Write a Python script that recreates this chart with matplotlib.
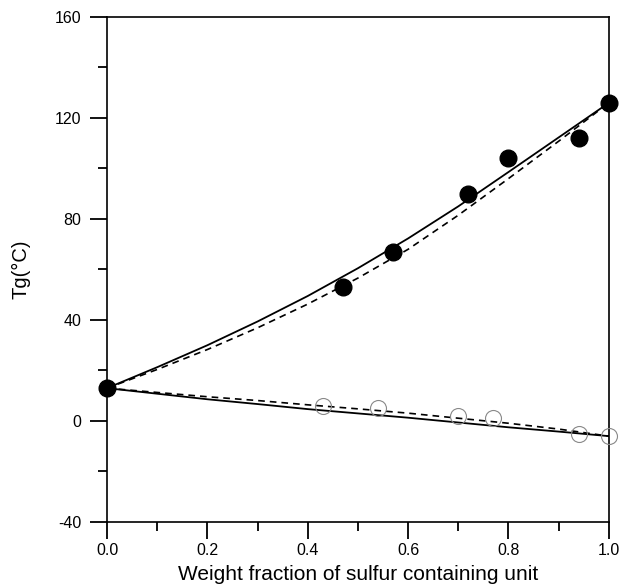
import matplotlib
matplotlib.use("Agg")
import matplotlib.pyplot as plt
from matplotlib.ticker import MultipleLocator, FormatStrFormatter

plt.rcParams['font.family'] = ['Liberation Sans', 'DejaVu Sans']

# Filled points (upper series)
x_filled = [0.0, 0.47, 0.57, 0.72, 0.80, 0.94, 1.0]
y_filled = [13, 53, 67, 90, 104, 112, 126]

# Open points (lower series)
x_open = [0.43, 0.54, 0.70, 0.77, 0.94, 1.0]
y_open = [6, 5, 2, 1, -5, -6]

# Curves
x_curve = [0.0, 0.1, 0.2, 0.3, 0.4, 0.5, 0.6, 0.7, 0.8, 0.9, 1.0]
upper_solid = [13, 21.3, 30, 39.4, 49.5, 60.5, 72.3, 85, 98.6, 112.3, 126]
upper_dashed = [13, 20.4, 28.3, 36.9, 46.3, 56.6, 68, 81.5, 96, 110.8, 126]
lower_solid = [13, 10.8, 8.6, 6.7, 4.7, 3.0, 1.3, -0.6, -2.5, -4.2, -6]
lower_dashed = [13, 11.3, 9.6, 8.1, 6.4, 4.8, 3.1, 1.1, -0.9, -3.2, -6]

fig = plt.figure(figsize=(6.2, 5.84), dpi=100)
ax = fig.add_axes([0.1726, 0.1062, 0.8094, 0.8647])

ax.plot(x_curve, upper_solid, color='black', lw=1.3, zorder=2)
ax.plot(x_curve, upper_dashed, color='black', lw=1.2, ls=(0, (4, 3)), zorder=2)
ax.plot(x_curve, lower_solid, color='black', lw=1.3, zorder=2)
ax.plot(x_curve, lower_dashed, color='black', lw=1.2, ls=(0, (4, 3)), zorder=2)

ax.plot(x_filled, y_filled, 'o', color='black', ms=12, zorder=4, clip_on=False)
ax.plot(x_open, y_open, 'o', mfc='none', mec='#888888', mew=0.8, ms=11.5,
        zorder=3, clip_on=False)

ax.set_xlim(0, 1.0)
ax.set_ylim(-40, 160)
ax.xaxis.set_major_locator(MultipleLocator(0.2))
ax.xaxis.set_minor_locator(MultipleLocator(0.1))
ax.yaxis.set_major_locator(MultipleLocator(40))
ax.yaxis.set_minor_locator(MultipleLocator(20))
ax.xaxis.set_major_formatter(FormatStrFormatter('%.1f'))
ax.yaxis.set_major_formatter(FormatStrFormatter('%d'))

ax.tick_params(which='major', direction='out', length=12.5, width=1.3, labelsize=11.5, pad=6)
ax.tick_params(which='minor', direction='out', length=6.5, width=1.3)
ax.tick_params(axis='x', which='major', pad=2.5)

for s in ax.spines.values():
    s.set_linewidth(1.2)

ax.set_xlabel('Weight fraction of sulfur containing unit', fontsize=15)
ax.xaxis.label.set_va('bottom')
ax.xaxis.set_label_coords(0.5, -0.1220)
ax.set_ylabel('Tg(\u00b0C)', fontsize=14.5)
ax.yaxis.label.set_va('center')
ax.yaxis.set_label_coords(-0.171, 0.5)

fig.savefig('out.png', dpi=100)
